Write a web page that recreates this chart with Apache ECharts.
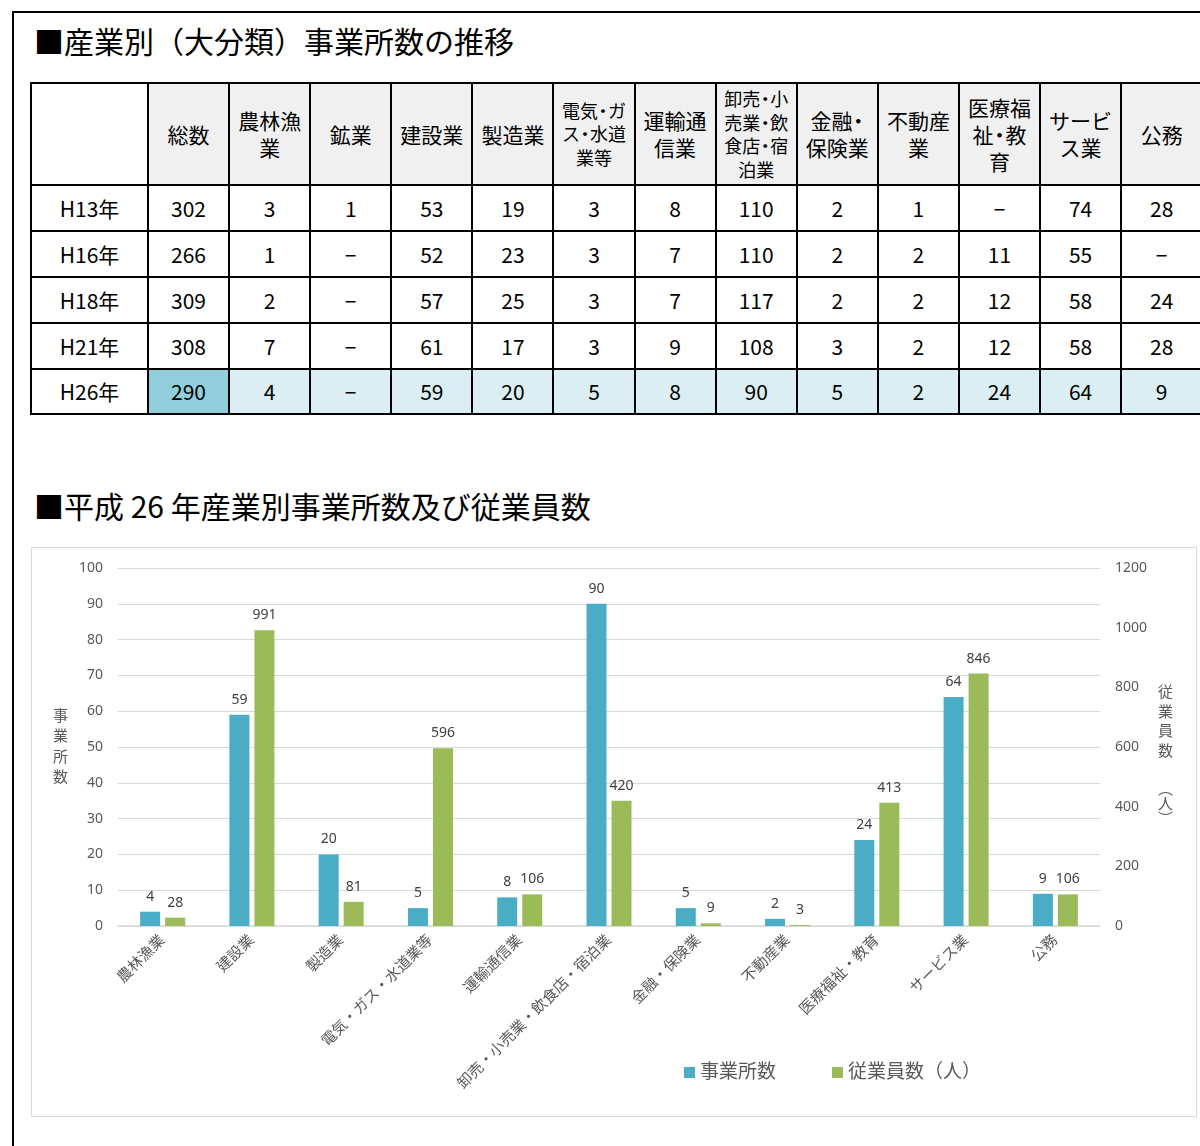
<!DOCTYPE html>
<html>
<head>
<meta charset="utf-8">
<script src="https://cdn.jsdelivr.net/npm/echarts@6/dist/echarts.min.js"></script>
<style>
  html, body { margin: 0; padding: 0; background: #fff; }
  body { width: 1200px; height: 1146px; overflow: hidden; position: relative;
         font-family: "Noto Sans CJK JP", "Noto Sans", sans-serif; color: #000; }
  #frame { position: absolute; left: 12px; top: 11px; width: 1400px; height: 1400px;
           border-left: 2px solid #000; border-top: 2px solid #000; }
  .title { position: absolute; left: 34px; font-size: 30px; line-height: 30px; white-space: nowrap; }
  #tbl { position: absolute; left: 30px; top: 82px; border-collapse: collapse; table-layout: fixed; }
  #tbl td { border: 2px solid #000; text-align: center; vertical-align: middle; padding: 0;
            font-size: 21px; line-height: 27px; overflow: hidden; white-space: nowrap; }
  #tbl tr.head td { background: #f0f0f0; }
  #tbl tr.head td.blank { background: #fff; }
  #tbl td.small { font-size: 18px; line-height: 23.5px; }
  #tbl tr.hl td { background: #daeef3; }
  #tbl tr.hl td.year { background: #fff; }
  #tbl tr.hl td.total { background: #92cddc; }
  .dot { display: inline-block; margin: 0 -0.22em; }
  .dash { display: inline-block; transform: scaleX(0.65); }
  #chart { position: absolute; left: 31px; top: 547px; width: 1164px; height: 568px; border: 1px solid #d9d9d9; }
</style>
</head>
<body>
<div id="frame"></div>
<div class="title" style="top:25px;">■産業別（大分類）事業所数の推移</div>
<table id="tbl"></table>
<div class="title" style="top:490px;">■平成 26 年産業別事業所数及び従業員数</div>
<div id="chart"></div>
<script>
// ---- table data ----
const tableHeaders = ['総数', '農林漁\n業', '鉱業', '建設業', '製造業', '電気・ガ\nス・水道\n業等', '運輸通\n信業',
  '卸売・小\n売業・飲\n食店・宿\n泊業', '金融・\n保険業', '不動産\n業', '医療福\n祉・教\n育', 'サービ\nス業', '公務'];
const smallHeaders = [5, 7];
const tableYears = ['H13年', 'H16年', 'H18年', 'H21年', 'H26年'];
const rowH13 = [302, 3, 1, 53, 19, 3, 8, 110, 2, 1, '－', 74, 28];
const rowH16 = [266, 1, '－', 52, 23, 3, 7, 110, 2, 2, 11, 55, '－'];
const rowH18 = [309, 2, '－', 57, 25, 3, 7, 117, 2, 2, 12, 58, 24];
const rowH21 = [308, 7, '－', 61, 17, 3, 9, 108, 3, 2, 12, 58, 28];
const rowH26 = [290, 4, '－', 59, 20, 5, 8, 90, 5, 2, 24, 64, 9];
const tableRows = [rowH13, rowH16, rowH18, rowH21, rowH26];

// ---- chart data ----
const categories = ['農林漁業', '建設業', '製造業', '電気・ガス・水道業等', '運輸通信業', '卸売・小売業・飲食店・宿泊業',
  '金融・保険業', '不動産業', '医療福祉・教育', 'サービス業', '公務'];
const establishments = [4, 59, 20, 5, 8, 90, 5, 2, 24, 64, 9];
const employees = [28, 991, 81, 596, 106, 420, 9, 3, 413, 846, 106];
const seriesNames = ['事業所数', '従業員数（人）'];

// ---- build table ----
(function () {
  const tbl = document.getElementById('tbl');
  const colW = 81.1;
  let html = '<colgroup><col style="width:117px">';
  for (let i = 0; i < tableHeaders.length; i++) html += '<col style="width:' + colW + 'px">';
  html += '</colgroup>';
  html += '<tr class="head" style="height:102px"><td class="blank"></td>';
  tableHeaders.forEach((h, i) => {
    const txt = h.replace(/・/g, '<span class="dot">・</span>').replace(/\n/g, '<br>');
    html += '<td' + (smallHeaders.indexOf(i) >= 0 ? ' class="small"' : '') + '>' + txt + '</td>';
  });
  html += '</tr>';
  tableRows.forEach((row, r) => {
    const last = r === tableRows.length - 1;
    html += '<tr' + (last ? ' class="hl"' : '') + ' style="height:' + (last ? 45 : 46) + 'px"><td class="year">' + tableYears[r] + '</td>';
    row.forEach((v, i) => {
      const txt = v === '－' ? '<span class="dash">－</span>' : v;
      html += '<td' + (i === 0 ? ' class="total"' : '') + '>' + txt + '</td>';
    });
    html += '</tr>';
  });
  tbl.style.width = (117 + colW * tableHeaders.length) + 'px';
  tbl.innerHTML = html;
})();

// ---- chart ----
const FONT = '"Noto Sans", "Noto Sans CJK JP", sans-serif';
const chart = echarts.init(document.getElementById('chart'), null, { renderer: 'canvas' });
const labelStyle = { show: true, position: 'top', distance: 8, fontSize: 14, color: '#404040', fontFamily: FONT };
chart.setOption({
  animation: false,
  textStyle: { fontFamily: FONT },
  legend: {
    data: seriesNames, left: 647, top: 510, icon: 'rect', itemWidth: 11, itemHeight: 11, itemGap: 56,
    textStyle: { fontSize: 19, color: '#595959', fontFamily: FONT }
  },
  grid: { left: 86, right: 96, top: 20, bottom: 190 },
  xAxis: {
    type: 'category', data: categories,
    axisLine: { lineStyle: { color: '#d9d9d9', width: 1.5 } },
    axisTick: { show: false },
    axisLabel: { interval: 0, rotate: 45, fontSize: 15, color: '#595959', margin: 12, fontFamily: FONT }
  },
  yAxis: [
    {
      type: 'value', min: 0, max: 100, interval: 10,
      name: '事\n業\n所\n数', nameLocation: 'middle', nameRotate: 0, nameGap: 50,
      nameTextStyle: { fontSize: 15, color: '#595959', lineHeight: 20.5, fontFamily: FONT },
      axisLine: { show: false }, axisTick: { show: false },
      axisLabel: { fontSize: 14, color: '#595959', margin: 15, fontFamily: FONT },
      splitLine: { lineStyle: { color: '#d9d9d9', width: 1 } }
    },
    {
      type: 'value', min: 0, max: 1200, interval: 200,
      name: '{a|従}\n{a|業}\n{a|員}\n{a|数}\n{g| }\n{b|︵}\n{b|人}\n{b|︶}',
      nameLocation: 'middle', nameRotate: 0, nameGap: 58,
      nameTextStyle: {
        fontSize: 15, color: '#595959', fontFamily: FONT, align: 'left', padding: [16, 0, 0, 0],
        rich: {
          a: { fontSize: 15, color: '#595959', lineHeight: 19.5, fontFamily: FONT },
          g: { fontSize: 15, lineHeight: 20.5, fontFamily: FONT },
          b: { fontSize: 15, color: '#595959', lineHeight: 15, fontFamily: FONT }
        }
      },
      axisLine: { show: false }, axisTick: { show: false },
      axisLabel: { fontSize: 14, color: '#595959', margin: 15, fontFamily: FONT, formatter: v => String(v) },
      splitLine: { show: false }
    }
  ],
  series: [
    { name: seriesNames[0], type: 'bar', data: establishments, barWidth: 20, barGap: '25%',
      itemStyle: { color: '#4bacc6' }, label: labelStyle },
    { name: seriesNames[1], type: 'bar', yAxisIndex: 1, data: employees, barWidth: 20, barGap: '25%',
      itemStyle: { color: '#9bbb59' }, label: labelStyle }
  ]
});
</script>
</body>
</html>
